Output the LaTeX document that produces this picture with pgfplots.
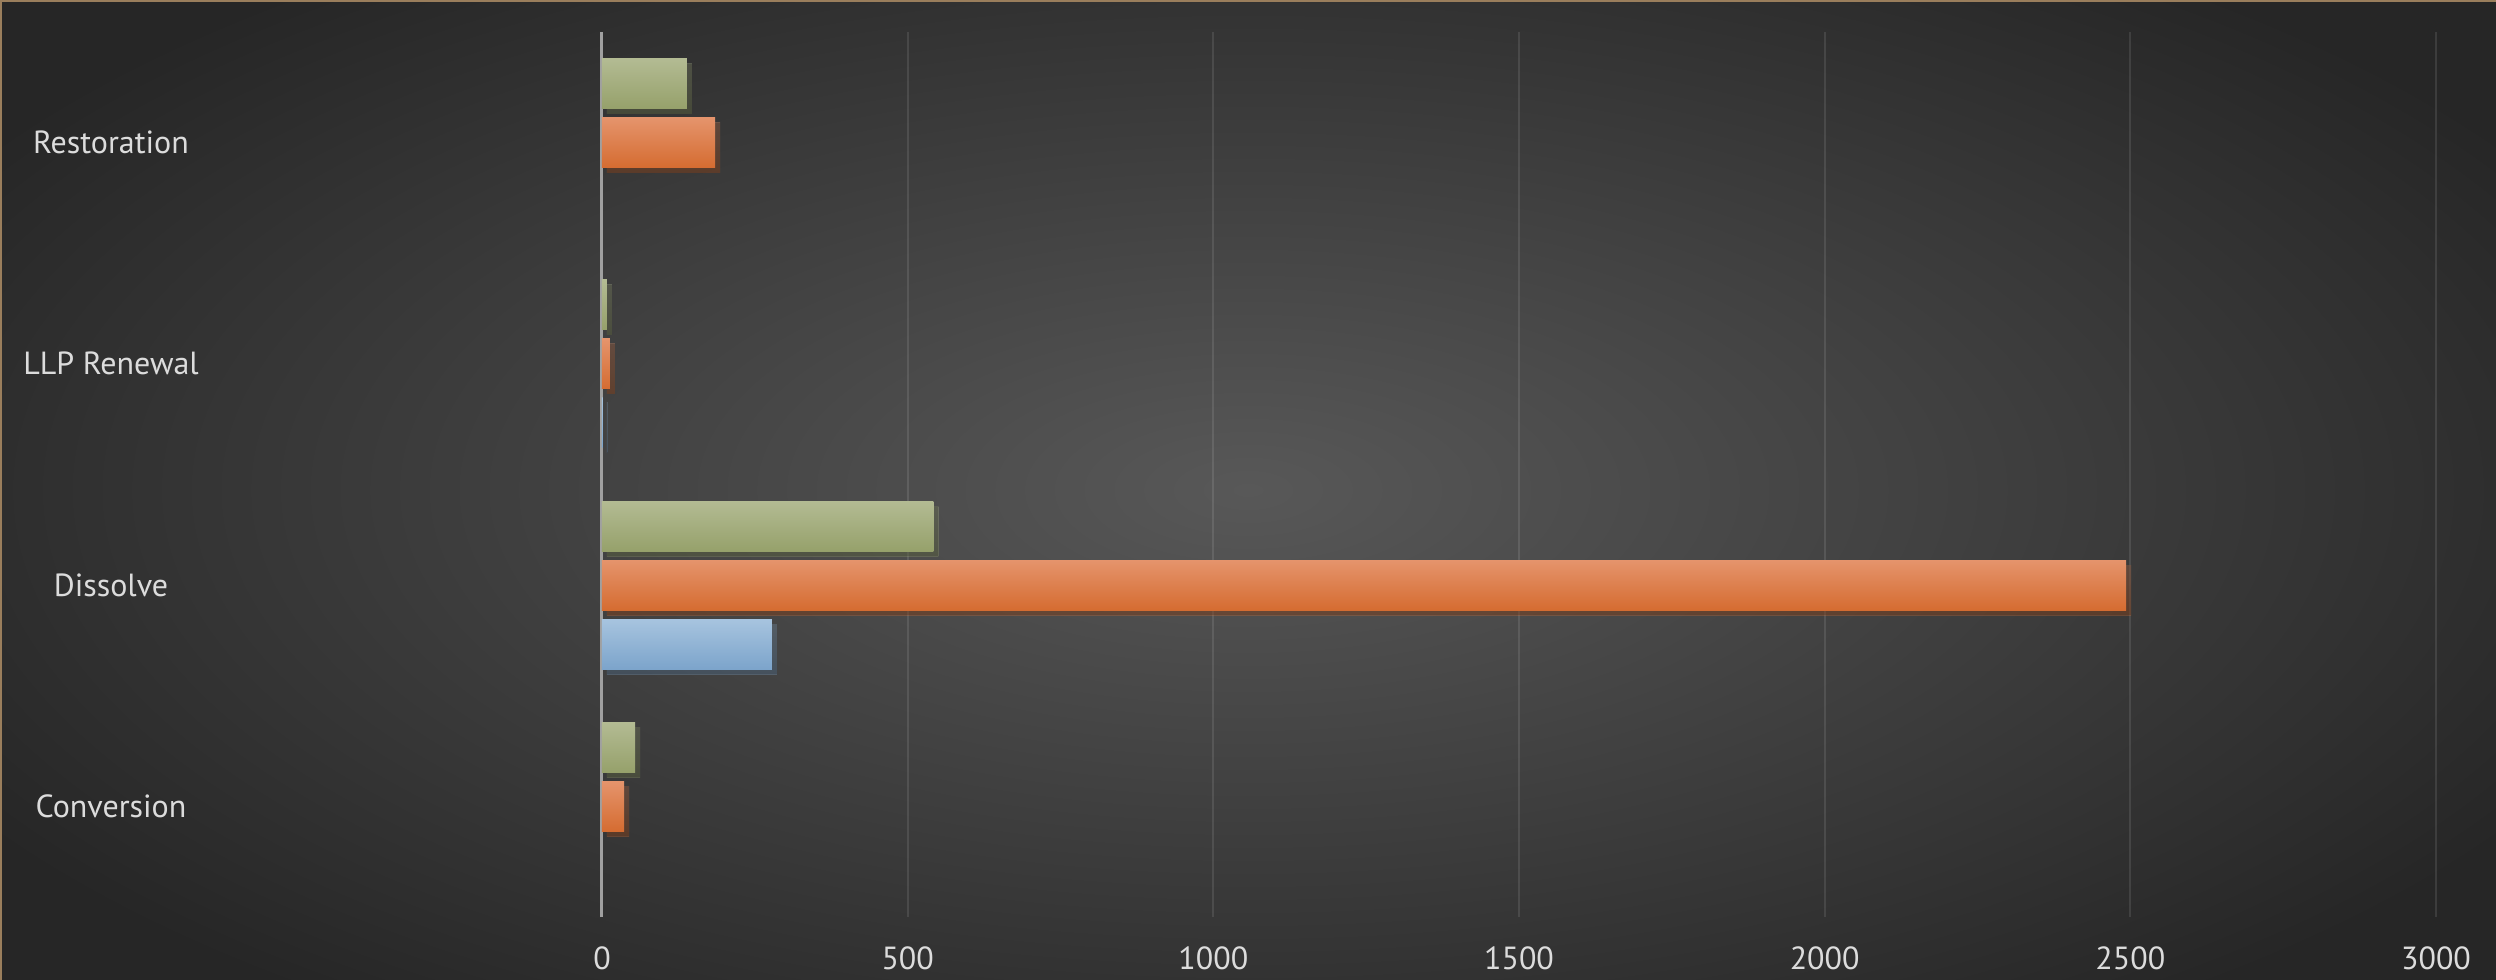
\documentclass[border=0pt]{standalone}
\usepackage{fontspec}
\setmainfont{PT Sans}
\usepackage{pgfplots}
\pgfplotsset{compat=1.18}
\usetikzlibrary{shadows}

\definecolor{bgin}{HTML}{585858}
\definecolor{bgout}{HTML}{262626}
\definecolor{lbl}{HTML}{DCDCDC}
\definecolor{zeroc}{HTML}{A0A0A0}
\definecolor{rim}{HTML}{9A7E5C}

\definecolor{blueT}{HTML}{A7C4DF}
\definecolor{blueB}{HTML}{7CA4CB}
\definecolor{oranT}{HTML}{E5946C}
\definecolor{oranM}{HTML}{E58040}
\definecolor{oranB}{HTML}{D56C31}
\definecolor{grnT}{HTML}{B3BB93}
\definecolor{grnB}{HTML}{96A16B}

% one \addplot per bar so that each bar gets its own gradient
\pgfplotsset{
    barshadow/.style={drop shadow={shadow xshift=1.25pt, shadow yshift=-1.25pt, opacity=0.3, fill=black}},
    blueser/.style={draw=none, bar shift=-0.267, top color=blueT, bottom color=blueB, barshadow},
    oranser/.style={draw=none, bar shift=0, top color=oranT, middle color=oranM, bottom color=oranB, barshadow},
    grnser/.style={draw=none, bar shift=0.267, top color=grnT, bottom color=grnB, barshadow},
}

\begin{document}
\begin{tikzpicture}
% picture is 2496 x 980 px at 0.25pt per px
\useasboundingbox (0,0) rectangle (624pt,245pt);
\shade[inner color=bgin, outer color=bgout] (-60pt,-40pt) rectangle (684pt,285pt);
\fill[rim] (0,244.5pt) rectangle (624pt,245pt);
\fill[rim] (0,0) rectangle (0.5pt,245pt);

\begin{axis}[
    at={(150.5pt,15.75pt)}, anchor=south west,
    scale only axis,
    width=458.5pt, height=221.25pt,
    xbar,
    xmin=0, xmax=3000,
    ymin=-0.5, ymax=3.5,
    xtick={0,500,1000,1500,2000,2500,3000},
    ytick={0,1,2,3},
    yticklabels={Conversion, Dissolve, LLP Renewal, Restoration},
    major tick length=0pt,
    axis line style={draw=none},
    xmajorgrids=true,
    grid style={white, opacity=0.1, line width=0.5pt},
    extra x ticks={0},
    extra x tick labels={},
    extra x tick style={grid style={zeroc, opacity=1, line width=0.75pt}},
    tick label style={font=\fontsize{8}{9}\selectfont, text=lbl},
    xticklabel style={anchor=center, yshift=-10.25pt},
    yticklabel style={anchor=center, xshift=-122.75pt},
    /pgf/number format/assume math mode=true,
    /pgf/number format/1000 sep={},
    scaled x ticks=false,
    bar width=0.226,
]

% blue series
\addplot[blueser] coordinates {(278,1)};
\addplot[blueser] coordinates {(1,2)};
% orange series
\addplot[oranser] coordinates {(36,0)};
\addplot[oranser] coordinates {(2493,1)};
\addplot[oranser] coordinates {(13,2)};
\addplot[oranser] coordinates {(185,3)};
% green series
\addplot[grnser] coordinates {(54,0)};
\addplot[grnser] coordinates {(542,1)};
\addplot[grnser] coordinates {(8,2)};
\addplot[grnser] coordinates {(139,3)};

\end{axis}
\end{tikzpicture}
\end{document}
